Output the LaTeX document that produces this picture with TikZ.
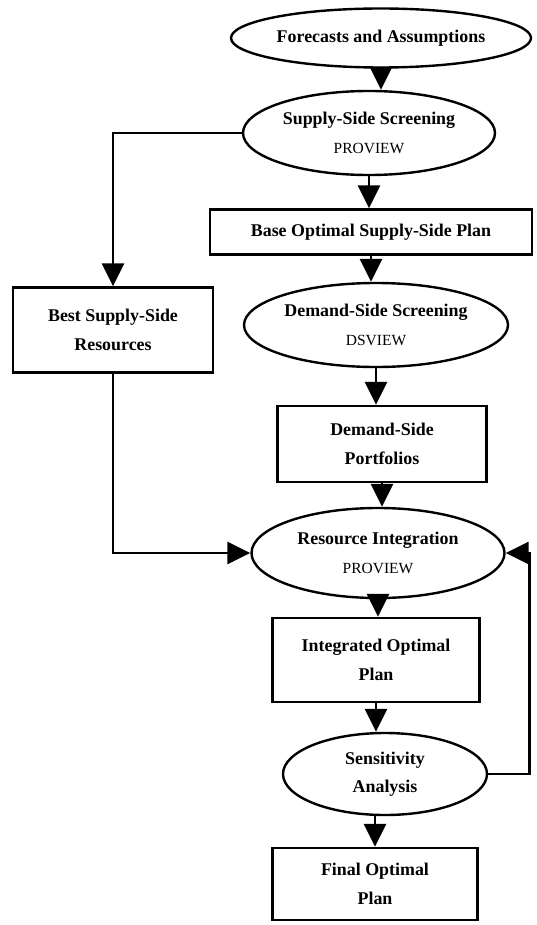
\documentclass[tikz,border=0pt]{standalone}
\usepackage{fontspec}
\setmainfont{Liberation Serif}
\usetikzlibrary{shapes.geometric,arrows.meta}
\begin{document}
\begin{tikzpicture}[x=1pt,y=-1pt,
  shp/.style={draw,line width=2.4pt,inner sep=0pt},
  ell/.style={shp,ellipse},
  box/.style={shp,rectangle},
  txt/.style={inner sep=0pt,align=center,font=\fontsize{17.9}{28.5}\selectfont\bfseries},
  arr/.style={line width=2.7pt,-{Triangle[length=23pt,width=22pt]}}
]
\useasboundingbox (0,0) rectangle (537,925);
% shapes
\node[ell,minimum width=300pt,minimum height=59pt] (fa) at (381,38) {};
\node[ell,minimum width=252pt,minimum height=84pt] (ss) at (369,133) {};
\node[box,minimum width=322pt,minimum height=45pt] (bp) at (371,232) {};
\node[ell,minimum width=264pt,minimum height=84pt] (ds) at (376,325) {};
\node[box,minimum width=209pt,minimum height=76pt] (dp) at (382,444) {};
\node[ell,minimum width=253pt,minimum height=90pt] (ri) at (378,553) {};
\node[box,minimum width=207pt,minimum height=84pt] (io) at (376,660) {};
\node[ell,minimum width=204pt,minimum height=82pt] (sa) at (385,774) {};
\node[box,minimum width=205pt,minimum height=72pt] (fo) at (375,884) {};
\node[box,minimum width=200pt,minimum height=85pt] (bs) at (113,330) {};
% texts
\node[txt] (tfa) at (fa.center) {Forecasts and Assumptions};
\node[txt] (tss) at (ss.center) {Supply-Side Screening\\{\fontsize{15.5}{28.5}\selectfont\mdseries PROVIEW}};
\node[txt] (tbp) at (bp.center) {Base Optimal Supply-Side Plan};
\node[txt] (tds) at (ds.center) {Demand-Side Screening\\{\fontsize{15.5}{28.5}\selectfont\mdseries DSVIEW}};
\node[txt] (tdp) at (dp.center) {Demand-Side\\Portfolios};
\node[txt] (tri) at (ri.center) {Resource Integration\\{\fontsize{15.5}{28.5}\selectfont\mdseries PROVIEW}};
\node[txt] (tio) at (io.center) {Integrated Optimal\\Plan};
\node[txt] (tsa) at (sa.center) {Sensitivity\\Analysis};
\node[txt] (tfo) at (fo.center) {Final Optimal\\Plan};
\node[txt] (tbs) at (bs.center) {Best Supply-Side\\Resources};
% connectors
\draw[arr] (fa.south) -- (fa.south |- ss.north);
\draw[arr] (ss.south) -- (ss.south |- bp.north);
\draw[arr] (bp.south) -- (bp.south |- ds.north);
\draw[arr] (ds.south) -- (ds.south |- dp.north);
\draw[arr] (dp.south) -- (dp.south |- ri.north);
\draw[arr] (ri.south) -- (ri.south |- io.north);
\draw[arr] (io.south) -- (io.south |- sa.north);
\draw[arr] (fo.north |- sa.south) -- (fo.north);
\draw[arr] (ss.west) -| (bs.north);
\draw[arr] (bs.south) |- (ri.west);
\coordinate (fb) at ([xshift=41pt]sa.east);
\draw[arr] (sa.east) -- (fb) |- (ri.east);
\end{tikzpicture}
\end{document}
